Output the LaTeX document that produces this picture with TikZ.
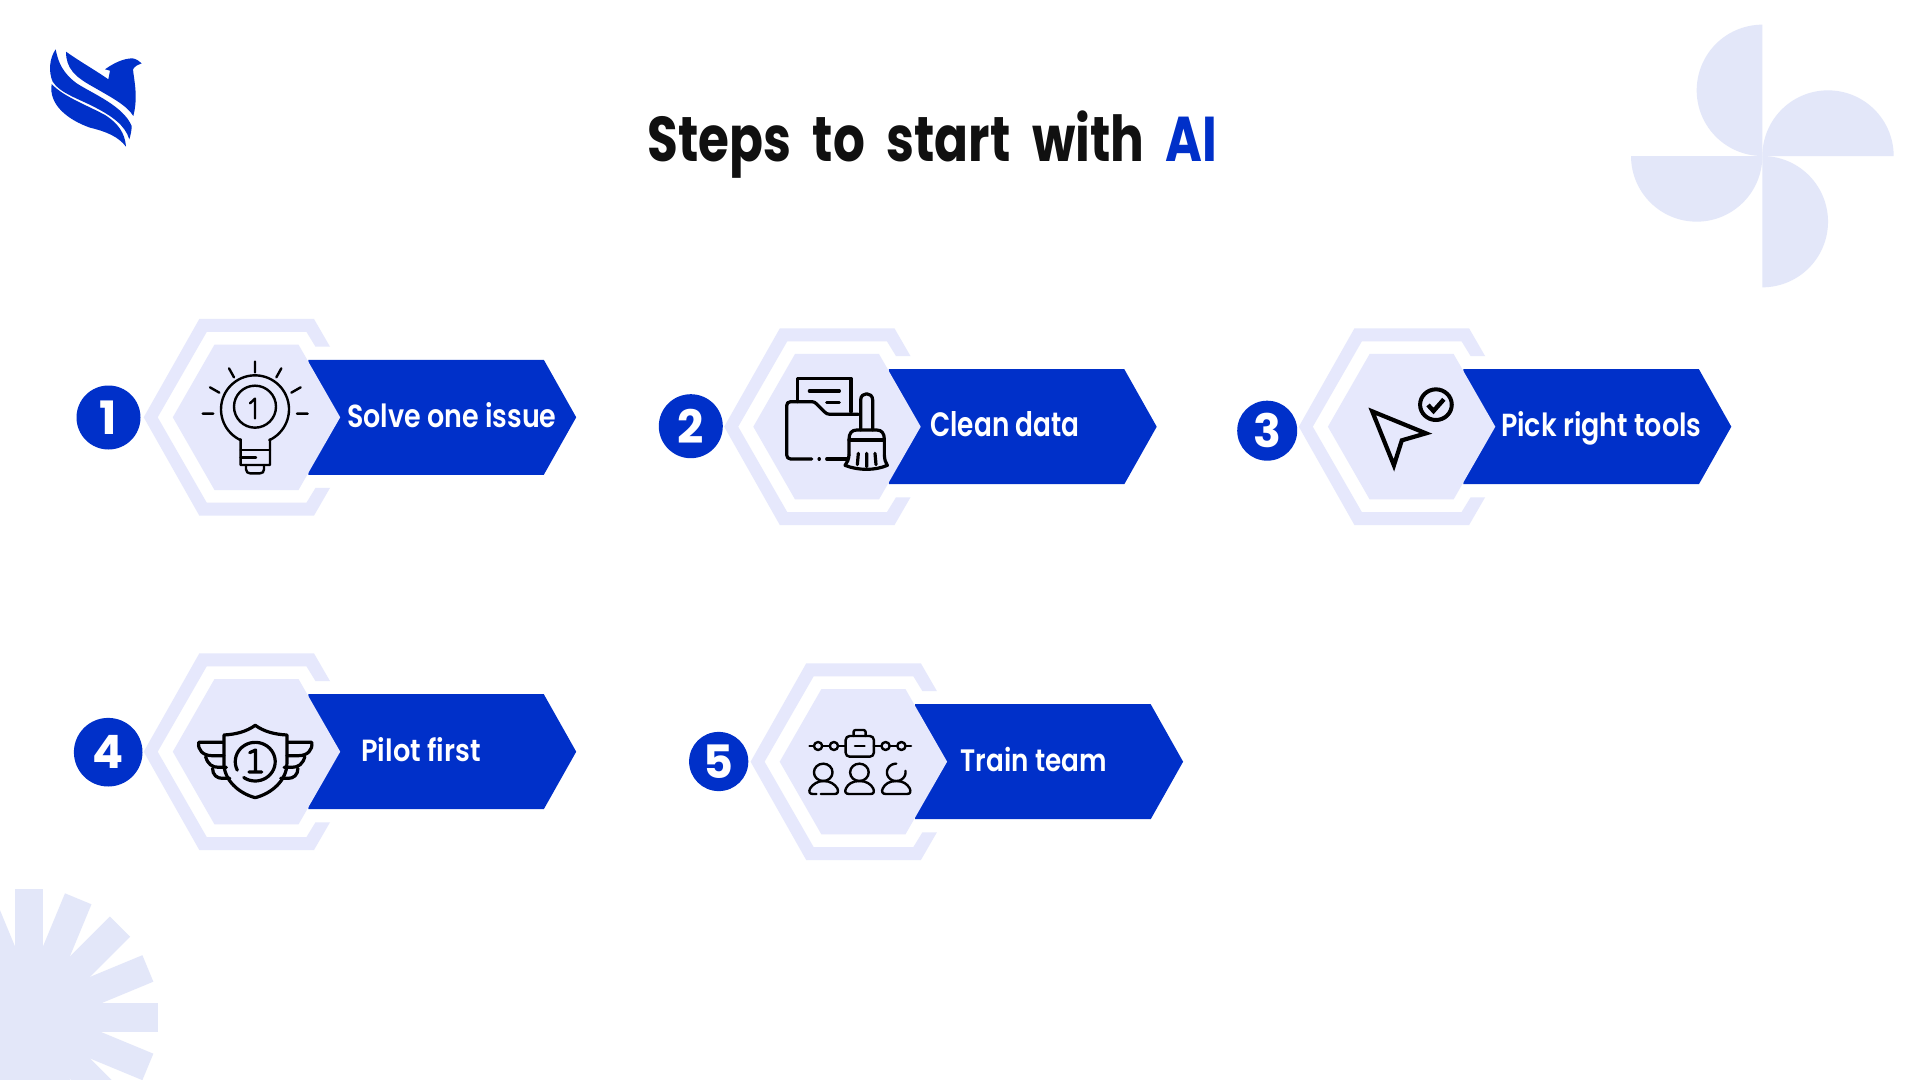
\documentclass[tikz,border=0pt]{standalone}
\usepackage{graphicx}
\usepackage{fontspec}
\newfontfamily\fut{Poppins}[UprightFont=* SemiBold,BoldFont=* Bold]
\newfontfamily\numf{Poppins}
\definecolor{brandblue}{HTML}{0030C9}
\definecolor{palehex}{HTML}{E6E8FC}
\definecolor{paledeco}{HTML}{E3E7F9}
\definecolor{inkblack}{HTML}{101010}
\newdimen\pxu \pxu=.5pt
\newcommand{\fitlab}[3]{\resizebox{#1\pxu}{#2\pxu}{\fut #3}}
\newcommand{\fittitle}[3]{\resizebox{#1\pxu}{#2\pxu}{\fut\bfseries #3}}
\newcommand{\wsp}{\hspace{.22em} }
\tikzset{
  band/.style={fill=palehex},
  arrowbar/.style={fill=brandblue},
  badge/.style={circle,fill=brandblue,text=white,inner sep=0pt,font=\numf\bfseries\fontsize{23}{23}\selectfont},
  lab/.style={anchor=base west,inner sep=0pt,text=white},
  ico/.style={draw=black,line width=1.2pt,line cap=round,line join=round},
  icothick/.style={draw=black,line width=1.6pt,line cap=round,line join=round},
}
\newcommand{\stepcard}[2]{%
  \begin{scope}[shift={(#1,#2)}]
    \fill[band] (73.5,-70.6) -- (57.5,-98.3) -- (-57.2,-98.3) -- (-112.8,0) -- (-57.2,98.3) -- (57.5,98.3) -- (73.5,70.6) -- (59,70.6) -- (50,85.3) -- (-49.8,85.3) -- (-98.8,0) -- (-49.8,-85.3) -- (50,-85.3) -- (59,-70.6) -- cycle;
    \fill[arrowbar] (51.8,-57.5) -- (287.3,-57.5) -- (319.7,0) -- (287.3,57.5) -- (51.8,57.5) -- cycle;
    \fill[band] (-83.7,0) -- (-42,-72.7) -- (42,-72.7) -- (83.7,0) -- (42,72.7) -- (-42,72.7) -- cycle;
  \end{scope}}
\begin{document}
\begin{tikzpicture}[x=.5pt,y=-.5pt]
\useasboundingbox (0,0) rectangle (1920,1080);
\clip (0,0) rectangle (1920,1080);
\fill[white] (0,0) rectangle (1920,1080);

% pinwheel
\begin{scope}[shift={(1610,10)},x=.16667pt,y=-.16667pt]
  \fill[paledeco] plot[domain=90:270,samples=60] ({457+197*cos(\x)},{241+197*sin(\x)}) -- cycle;
  \fill[paledeco] plot[domain=180:360,samples=60] ({654+197*cos(\x)},{438+197*sin(\x)}) -- cycle;
  \fill[paledeco] plot[domain=-90:90,samples=60] ({457+197*cos(\x)},{635+197*sin(\x)}) -- cycle;
  \fill[paledeco] plot[domain=0:180,samples=60] ({260+197*cos(\x)},{438+197*sin(\x)}) -- cycle;
\end{scope}

% sunburst
\begin{scope}[shift={(0,870)},x=.16667pt,y=-.16667pt]
  \foreach \a in {0,22.5,...,337.5}{
    \fill[paledeco,rotate around={\a:(87,443)}] (44,443) -- (44,57) -- (130,57) -- (130,443) -- cycle;
  }
\end{scope}

% logo
\begin{scope}[shift={(30,30)},x=.16667pt,y=-.16667pt]
  \fill[brandblue] (108,65) .. controls (150,95) and (195,120) .. (235,148) -- (240,122) -- (225,118)
     .. controls (250,100) and (280,85) .. (308,85) .. controls (320,88) and (328,93) .. (335,100)
     .. controls (325,103) and (315,108) .. (309,118) .. controls (312,150) and (325,200) .. (310,258)
     .. controls (290,225) and (240,200) .. (185,168) .. controls (135,140) and (108,115) .. (108,65) -- cycle;
  \fill[brandblue] (77,58) .. controls (85,100) and (100,130) .. (140,160) .. controls (190,192) and (280,228) .. (305,288)
     .. controls (305,300) and (302,315) .. (298,328) .. controls (285,285) and (245,258) .. (195,232)
     .. controls (150,208) and (90,190) .. (68,155) .. controls (55,125) and (58,85) .. (77,58) -- cycle;
  \fill[brandblue] (65,162) .. controls (100,200) and (170,225) .. (225,255) .. controls (265,280) and (285,310) .. (288,350)
     .. controls (265,320) and (230,305) .. (180,293) .. controls (115,270) and (55,225) .. (65,162) -- cycle;
\end{scope}

% title
\node[anchor=base west,inner sep=0pt,text=inkblack] (title) at (647,161.7) {\fittitle{570}{50.7}{Steps\wsp to\wsp start\wsp with\wsp \textcolor{brandblue}{AI}}};

% cards
\stepcard{256.5}{417.3}
\stepcard{837}{426.7}
\stepcard{1411.6}{426.7}
\stepcard{256.5}{751.7}
\stepcard{863.4}{761.7}

% badges
\node[badge,minimum size=32pt] (b1) at (108.5,417.5) {1};
\node[badge,minimum size=32pt] (b2) at (690.8,426.2) {2};
\node[badge,minimum size=30pt] (b3) at (1267.2,430.7) {3};
\node[badge,minimum size=34.3pt] (b4) at (108.2,752.2) {4};
\node[badge,minimum size=29.6pt] (b5) at (718.7,761.5) {5};

% labels
\node[lab] (l1) at (346.8,427.7) {\fitlab{209.4}{25}{Solve one issue}};
\node[lab] (l2) at (930,436.7) {\fitlab{149}{25}{Clean data}};
\node[lab] (l3) at (1500.6,436.7) {\fitlab{200.4}{25}{Pick right tools}};
\node[lab] (l4) at (361,761.7) {\fitlab{119.4}{24}{Pilot first}};
\node[lab] (l5) at (960.3,771.7) {\fitlab{146}{24.3}{Train team}};

% bulb icon
\begin{scope}[shift={(150,310)},x=.16667pt,y=-.16667pt]
  \draw[ico] (315,155)--(315,187) (237,175)--(252,202) (394,175)--(379,202) (180,232)--(208,248) (452,232)--(424,248) (158,311)--(190,311) (441,311)--(473,311);
  \draw[ico] (315,290) circle[radius=63];
  \draw[ico] (300,280)--(315,266)--(315,325);
  \draw[ico] (272,465) -- (272,388) -- plot[domain=115:425,samples=60] ({315+102*cos(\x)},{298+102*sin(\x)}) -- (360,388) -- (360,465) -- cycle;
  \draw[ico] (272,420)--(360,420) (272,443)--(318,443);
  \draw[ico] (288,465)--(288,478) .. controls (288,486) and (294,490) .. (300,490) -- (330,490) .. controls (337,490) and (342,486) .. (342,478) -- (342,465);
\end{scope}

% folder and brush icon
\begin{scope}[shift={(770,360)},x=.16667pt,y=-.16667pt]
  \draw[icothick] (82,125)--(82,55)--(243,55)--(243,155);
  \draw[icothick] (118,93)--(208,93) (170,127)--(208,127);
  \draw[icothick] (265,163)--(180,163) .. controls (172,163) and (168,160) .. (164,156) -- (140,132) .. controls (136,128) and (132,125) .. (126,125) -- (62,125) .. controls (54,125) and (50,130) .. (50,137) -- (50,285) .. controls (50,292) and (55,297) .. (62,297) -- (125,297);
  \draw[icothick] (147,297)--(148,297);
  \draw[icothick] (170,297)--(230,297);
  \draw[icothick] (272,210)--(272,120) .. controls (272,95) and (308,95) .. (308,120) -- (308,210);
  \draw[icothick] (237,285)--(237,238) .. controls (237,220) and (245,210) .. (260,210) -- (320,210) .. controls (335,210) and (343,220) .. (343,238) -- (343,285);
  \draw[icothick] (237,240)--(343,240);
  \draw[icothick] (237,285) .. controls (236,298) and (232,308) .. (225,316) .. controls (265,332) and (315,332) .. (352,316) .. controls (346,308) and (344,298) .. (343,285);
  \draw[icothick] (262,314)--(265,280) (290,320)--(290,280) (318,314)--(315,280);
\end{scope}

% cursor icon
\begin{scope}[shift={(1220,310)},x=.17218pt,y=-.16667pt]
  \draw[draw=black,line width=2.1pt,line join=miter,miter limit=10] (442,304)--(598,370)--(528,391)--(505,466)--cycle;
  \draw[draw=black,line width=2pt] (627,284) circle[x radius=46,y radius=46];
  \draw[draw=black,line width=2.2pt] (604,285)--(620,303)--(650,268);
\end{scope}

% shield icon
\begin{scope}[shift={(50,640)},x=.17218pt,y=-.16667pt]
  \draw[icothick] (505,370)--(505,285) .. controls (540,283) and (570,275) .. (596,256) .. controls (622,275) and (652,283) .. (688,285) -- (688,370) .. controls (688,420) and (645,460) .. (596,473) .. controls (548,460) and (505,420) .. (505,370) -- cycle;
  \draw[icothick] plot[domain=154:485,samples=40] ({596+58*cos(\x)},{365+58*sin(\x)});
  \draw[icothick] (580,338)--(597,330)--(597,393) (578,396)--(615,396);
  \draw[icothick] (502,307)--(432,307) .. controls (428,330) and (445,347) .. (470,347) -- (505,347);
  \draw[icothick] (452,350) .. controls (458,372) and (470,382) .. (490,382) -- (512,382);
  \draw[icothick] (472,385) .. controls (472,405) and (485,415) .. (500,415) -- (522,415);
  \draw[icothick] (690,307)--(760,307) .. controls (764,330) and (747,347) .. (722,347) -- (688,347);
  \draw[icothick] (740,350) .. controls (734,372) and (722,382) .. (702,382) -- (680,382);
  \draw[icothick] (720,385) .. controls (720,405) and (707,415) .. (692,415) -- (670,415);
\end{scope}

% team icon
\begin{scope}[shift={(670,650)},x=.17218pt,y=-.16667pt]
  \draw[ico] (405,288)--(418,288) (442,288)--(464,288) (488,288)--(510,288) (592,288)--(614,288) (638,288)--(660,288) (684,288)--(700,288);
  \foreach \cx in {430,476,626,672}{\draw[ico] (\cx,288) circle[x radius=12,y radius=12];}
  \draw[ico,rounded corners=2pt] (510,258) rectangle (592,320);
  \draw[ico,rounded corners=1pt] (533,258)--(533,240)--(568,240)--(568,258);
  \draw[ico] (537,288)--(565,288);
  \draw[ico] (445,367) circle[x radius=27,y radius=26];
  \draw[ico] (550,367) circle[x radius=27,y radius=26];
  \draw[ico] plot[domain=-10:270,samples=40] ({657+27*cos(\x)},{367+26*sin(\x)});
  \draw[ico] (425,432)--(415,432) .. controls (405,432) and (402,425) .. (407,415) .. controls (415,402) and (430,393) .. (445,393) .. controls (465,393) and (478,402) .. (486,415) .. controls (490,425) and (487,432) .. (478,432) -- (438,432);
  \draw[ico] (550,393) .. controls (530,393) and (517,402) .. (511,415) .. controls (506,425) and (510,432) .. (520,432) -- (582,432) .. controls (592,432) and (594,425) .. (590,415) .. controls (583,402) and (570,393) .. (550,393) -- cycle;
  \draw[ico] (657,393) .. controls (637,393) and (624,402) .. (618,415) .. controls (613,425) and (617,432) .. (627,432) -- (688,432) .. controls (698,432) and (700,425) .. (696,415) .. controls (689,402) and (677,393) .. (657,393) -- cycle;
\end{scope}
\end{tikzpicture}
\end{document}
